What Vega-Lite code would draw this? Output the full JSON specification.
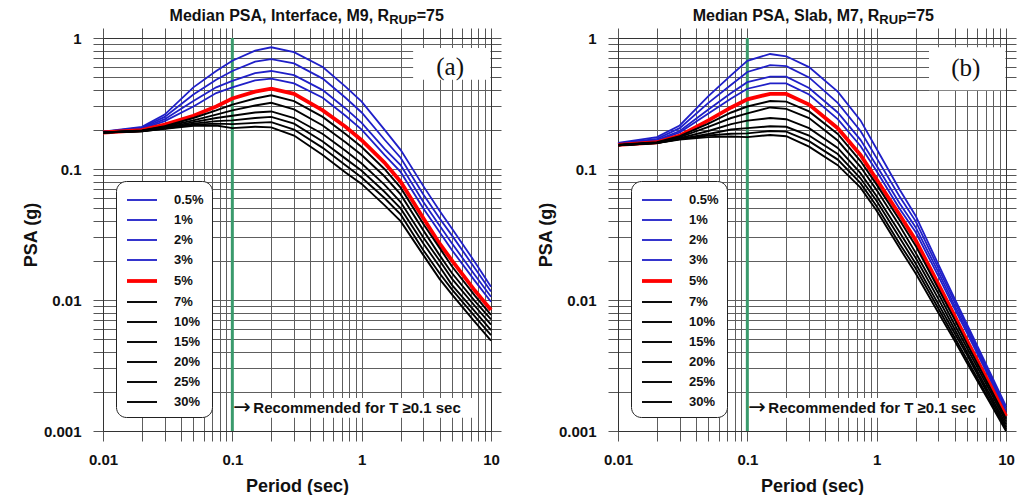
{
"$schema": "https://vega.github.io/schema/vega-lite/v6.json",
"background": "white",
"padding": {"left": 22, "top": 7, "right": 0, "bottom": 0},
"config": {"view": {"stroke": null}, "font": "Liberation Sans", "axis": {"labelFont": "Liberation Sans", "titleFont": "Liberation Sans", "domainColor": "#333", "tickColor": "#555", "domainWidth": 1, "tickWidth": 1}},
"datasets": {
"a": [
{"T":0.01,"d":"0.5%","v":0.193},{"T":0.01,"d":"1%","v":0.192},{"T":0.01,"d":"2%","v":0.192},{"T":0.01,"d":"3%","v":0.191},{"T":0.01,"d":"5%","v":0.19},{"T":0.01,"d":"7%","v":0.19},{"T":0.01,"d":"10%","v":0.19},{"T":0.01,"d":"15%","v":0.19},{"T":0.01,"d":"20%","v":0.19},{"T":0.01,"d":"25%","v":0.19},{"T":0.01,"d":"30%","v":0.19},
{"T":0.02,"d":"0.5%","v":0.21},{"T":0.02,"d":"1%","v":0.207},{"T":0.02,"d":"2%","v":0.204},{"T":0.02,"d":"3%","v":0.202},{"T":0.02,"d":"5%","v":0.198},{"T":0.02,"d":"7%","v":0.197},{"T":0.02,"d":"10%","v":0.196},{"T":0.02,"d":"15%","v":0.195},{"T":0.02,"d":"20%","v":0.195},{"T":0.02,"d":"25%","v":0.194},{"T":0.02,"d":"30%","v":0.194},
{"T":0.03,"d":"0.5%","v":0.26},{"T":0.03,"d":"1%","v":0.25},{"T":0.03,"d":"2%","v":0.24},{"T":0.03,"d":"3%","v":0.232},{"T":0.03,"d":"5%","v":0.218},{"T":0.03,"d":"7%","v":0.212},{"T":0.03,"d":"10%","v":0.21},{"T":0.03,"d":"15%","v":0.207},{"T":0.03,"d":"20%","v":0.205},{"T":0.03,"d":"25%","v":0.204},{"T":0.03,"d":"30%","v":0.203},
{"T":0.05,"d":"0.5%","v":0.42},{"T":0.05,"d":"1%","v":0.37},{"T":0.05,"d":"2%","v":0.33},{"T":0.05,"d":"3%","v":0.3},{"T":0.05,"d":"5%","v":0.255},{"T":0.05,"d":"7%","v":0.245},{"T":0.05,"d":"10%","v":0.235},{"T":0.05,"d":"15%","v":0.228},{"T":0.05,"d":"20%","v":0.222},{"T":0.05,"d":"25%","v":0.218},{"T":0.05,"d":"30%","v":0.214},
{"T":0.075,"d":"0.5%","v":0.56},{"T":0.075,"d":"1%","v":0.48},{"T":0.075,"d":"2%","v":0.42},{"T":0.075,"d":"3%","v":0.38},{"T":0.075,"d":"5%","v":0.3},{"T":0.075,"d":"7%","v":0.28},{"T":0.075,"d":"10%","v":0.26},{"T":0.075,"d":"15%","v":0.245},{"T":0.075,"d":"20%","v":0.232},{"T":0.075,"d":"25%","v":0.222},{"T":0.075,"d":"30%","v":0.215},
{"T":0.1,"d":"0.5%","v":0.67},{"T":0.1,"d":"1%","v":0.56},{"T":0.1,"d":"2%","v":0.47},{"T":0.1,"d":"3%","v":0.42},{"T":0.1,"d":"5%","v":0.345},{"T":0.1,"d":"7%","v":0.31},{"T":0.1,"d":"10%","v":0.28},{"T":0.1,"d":"15%","v":0.255},{"T":0.1,"d":"20%","v":0.235},{"T":0.1,"d":"25%","v":0.22},{"T":0.1,"d":"30%","v":0.205},
{"T":0.15,"d":"0.5%","v":0.8},{"T":0.15,"d":"1%","v":0.66},{"T":0.15,"d":"2%","v":0.54},{"T":0.15,"d":"3%","v":0.475},{"T":0.15,"d":"5%","v":0.39},{"T":0.15,"d":"7%","v":0.345},{"T":0.15,"d":"10%","v":0.305},{"T":0.15,"d":"15%","v":0.27},{"T":0.15,"d":"20%","v":0.245},{"T":0.15,"d":"25%","v":0.225},{"T":0.15,"d":"30%","v":0.21},
{"T":0.2,"d":"0.5%","v":0.85},{"T":0.2,"d":"1%","v":0.69},{"T":0.2,"d":"2%","v":0.56},{"T":0.2,"d":"3%","v":0.49},{"T":0.2,"d":"5%","v":0.41},{"T":0.2,"d":"7%","v":0.365},{"T":0.2,"d":"10%","v":0.32},{"T":0.2,"d":"15%","v":0.275},{"T":0.2,"d":"20%","v":0.25},{"T":0.2,"d":"25%","v":0.228},{"T":0.2,"d":"30%","v":0.208},
{"T":0.3,"d":"0.5%","v":0.78},{"T":0.3,"d":"1%","v":0.64},{"T":0.3,"d":"2%","v":0.52},{"T":0.3,"d":"3%","v":0.45},{"T":0.3,"d":"5%","v":0.375},{"T":0.3,"d":"7%","v":0.33},{"T":0.3,"d":"10%","v":0.285},{"T":0.3,"d":"15%","v":0.245},{"T":0.3,"d":"20%","v":0.222},{"T":0.3,"d":"25%","v":0.2},{"T":0.3,"d":"30%","v":0.18},
{"T":0.5,"d":"0.5%","v":0.6},{"T":0.5,"d":"1%","v":0.49},{"T":0.5,"d":"2%","v":0.4},{"T":0.5,"d":"3%","v":0.35},{"T":0.5,"d":"5%","v":0.28},{"T":0.5,"d":"7%","v":0.25},{"T":0.5,"d":"10%","v":0.215},{"T":0.5,"d":"15%","v":0.185},{"T":0.5,"d":"20%","v":0.162},{"T":0.5,"d":"25%","v":0.145},{"T":0.5,"d":"30%","v":0.128},
{"T":0.75,"d":"0.5%","v":0.425},{"T":0.75,"d":"1%","v":0.35},{"T":0.75,"d":"2%","v":0.29},{"T":0.75,"d":"3%","v":0.255},{"T":0.75,"d":"5%","v":0.21},{"T":0.75,"d":"7%","v":0.185},{"T":0.75,"d":"10%","v":0.16},{"T":0.75,"d":"15%","v":0.138},{"T":0.75,"d":"20%","v":0.12},{"T":0.75,"d":"25%","v":0.107},{"T":0.75,"d":"30%","v":0.094},
{"T":1,"d":"0.5%","v":0.327},{"T":1,"d":"1%","v":0.27},{"T":1,"d":"2%","v":0.225},{"T":1,"d":"3%","v":0.2},{"T":1,"d":"5%","v":0.166},{"T":1,"d":"7%","v":0.147},{"T":1,"d":"10%","v":0.128},{"T":1,"d":"15%","v":0.11},{"T":1,"d":"20%","v":0.097},{"T":1,"d":"25%","v":0.086},{"T":1,"d":"30%","v":0.077},
{"T":1.5,"d":"0.5%","v":0.2},{"T":1.5,"d":"1%","v":0.168},{"T":1.5,"d":"2%","v":0.143},{"T":1.5,"d":"3%","v":0.128},{"T":1.5,"d":"5%","v":0.112},{"T":1.5,"d":"7%","v":0.1},{"T":1.5,"d":"10%","v":0.088},{"T":1.5,"d":"15%","v":0.076},{"T":1.5,"d":"20%","v":0.067},{"T":1.5,"d":"25%","v":0.06},{"T":1.5,"d":"30%","v":0.053},
{"T":2,"d":"0.5%","v":0.14},{"T":2,"d":"1%","v":0.122},{"T":2,"d":"2%","v":0.107},{"T":2,"d":"3%","v":0.095},{"T":2,"d":"5%","v":0.08},{"T":2,"d":"7%","v":0.072},{"T":2,"d":"10%","v":0.064},{"T":2,"d":"15%","v":0.056},{"T":2,"d":"20%","v":0.05},{"T":2,"d":"25%","v":0.045},{"T":2,"d":"30%","v":0.04},
{"T":3,"d":"0.5%","v":0.074},{"T":3,"d":"1%","v":0.064},{"T":3,"d":"2%","v":0.056},{"T":3,"d":"3%","v":0.05},{"T":3,"d":"5%","v":0.042},{"T":3,"d":"7%","v":0.038},{"T":3,"d":"10%","v":0.034},{"T":3,"d":"15%","v":0.03},{"T":3,"d":"20%","v":0.027},{"T":3,"d":"25%","v":0.024},{"T":3,"d":"30%","v":0.022},
{"T":4,"d":"0.5%","v":0.048},{"T":4,"d":"1%","v":0.042},{"T":4,"d":"2%","v":0.037},{"T":4,"d":"3%","v":0.033},{"T":4,"d":"5%","v":0.027},{"T":4,"d":"7%","v":0.025},{"T":4,"d":"10%","v":0.022},{"T":4,"d":"15%","v":0.02},{"T":4,"d":"20%","v":0.018},{"T":4,"d":"25%","v":0.016},{"T":4,"d":"30%","v":0.0145},
{"T":5,"d":"0.5%","v":0.035},{"T":5,"d":"1%","v":0.031},{"T":5,"d":"2%","v":0.027},{"T":5,"d":"3%","v":0.024},{"T":5,"d":"5%","v":0.02},{"T":5,"d":"7%","v":0.018},{"T":5,"d":"10%","v":0.016},{"T":5,"d":"15%","v":0.0145},{"T":5,"d":"20%","v":0.013},{"T":5,"d":"25%","v":0.012},{"T":5,"d":"30%","v":0.011},
{"T":7.5,"d":"0.5%","v":0.0195},{"T":7.5,"d":"1%","v":0.0175},{"T":7.5,"d":"2%","v":0.0155},{"T":7.5,"d":"3%","v":0.014},{"T":7.5,"d":"5%","v":0.0118},{"T":7.5,"d":"7%","v":0.0108},{"T":7.5,"d":"10%","v":0.0098},{"T":7.5,"d":"15%","v":0.009},{"T":7.5,"d":"20%","v":0.0082},{"T":7.5,"d":"25%","v":0.0075},{"T":7.5,"d":"30%","v":0.0068},
{"T":10,"d":"0.5%","v":0.0126},{"T":10,"d":"1%","v":0.0116},{"T":10,"d":"2%","v":0.0106},{"T":10,"d":"3%","v":0.0097},{"T":10,"d":"5%","v":0.0084},{"T":10,"d":"7%","v":0.0077},{"T":10,"d":"10%","v":0.0071},{"T":10,"d":"15%","v":0.0065},{"T":10,"d":"20%","v":0.0059},{"T":10,"d":"25%","v":0.0054},{"T":10,"d":"30%","v":0.0049}
],
"b": [
{"T":0.01,"d":"0.5%","v":0.158},{"T":0.01,"d":"1%","v":0.157},{"T":0.01,"d":"2%","v":0.156},{"T":0.01,"d":"3%","v":0.155},{"T":0.01,"d":"5%","v":0.153},{"T":0.01,"d":"7%","v":0.153},{"T":0.01,"d":"10%","v":0.152},{"T":0.01,"d":"15%","v":0.152},{"T":0.01,"d":"20%","v":0.152},{"T":0.01,"d":"25%","v":0.152},{"T":0.01,"d":"30%","v":0.152},
{"T":0.02,"d":"0.5%","v":0.175},{"T":0.02,"d":"1%","v":0.17},{"T":0.02,"d":"2%","v":0.166},{"T":0.02,"d":"3%","v":0.164},{"T":0.02,"d":"5%","v":0.16},{"T":0.02,"d":"7%","v":0.16},{"T":0.02,"d":"10%","v":0.159},{"T":0.02,"d":"15%","v":0.159},{"T":0.02,"d":"20%","v":0.158},{"T":0.02,"d":"25%","v":0.158},{"T":0.02,"d":"30%","v":0.158},
{"T":0.03,"d":"0.5%","v":0.215},{"T":0.03,"d":"1%","v":0.205},{"T":0.03,"d":"2%","v":0.195},{"T":0.03,"d":"3%","v":0.19},{"T":0.03,"d":"5%","v":0.18},{"T":0.03,"d":"7%","v":0.178},{"T":0.03,"d":"10%","v":0.175},{"T":0.03,"d":"15%","v":0.172},{"T":0.03,"d":"20%","v":0.17},{"T":0.03,"d":"25%","v":0.169},{"T":0.03,"d":"30%","v":0.168},
{"T":0.05,"d":"0.5%","v":0.36},{"T":0.05,"d":"1%","v":0.32},{"T":0.05,"d":"2%","v":0.285},{"T":0.05,"d":"3%","v":0.265},{"T":0.05,"d":"5%","v":0.235},{"T":0.05,"d":"7%","v":0.222},{"T":0.05,"d":"10%","v":0.21},{"T":0.05,"d":"15%","v":0.195},{"T":0.05,"d":"20%","v":0.185},{"T":0.05,"d":"25%","v":0.18},{"T":0.05,"d":"30%","v":0.175},
{"T":0.075,"d":"0.5%","v":0.52},{"T":0.075,"d":"1%","v":0.44},{"T":0.075,"d":"2%","v":0.38},{"T":0.075,"d":"3%","v":0.345},{"T":0.075,"d":"5%","v":0.295},{"T":0.075,"d":"7%","v":0.27},{"T":0.075,"d":"10%","v":0.245},{"T":0.075,"d":"15%","v":0.22},{"T":0.075,"d":"20%","v":0.2},{"T":0.075,"d":"25%","v":0.186},{"T":0.075,"d":"30%","v":0.177},
{"T":0.1,"d":"0.5%","v":0.67},{"T":0.1,"d":"1%","v":0.55},{"T":0.1,"d":"2%","v":0.46},{"T":0.1,"d":"3%","v":0.41},{"T":0.1,"d":"5%","v":0.34},{"T":0.1,"d":"7%","v":0.3},{"T":0.1,"d":"10%","v":0.266},{"T":0.1,"d":"15%","v":0.234},{"T":0.1,"d":"20%","v":0.205},{"T":0.1,"d":"25%","v":0.187},{"T":0.1,"d":"30%","v":0.175},
{"T":0.15,"d":"0.5%","v":0.755},{"T":0.15,"d":"1%","v":0.62},{"T":0.15,"d":"2%","v":0.507},{"T":0.15,"d":"3%","v":0.45},{"T":0.15,"d":"5%","v":0.375},{"T":0.15,"d":"7%","v":0.33},{"T":0.15,"d":"10%","v":0.295},{"T":0.15,"d":"15%","v":0.245},{"T":0.15,"d":"20%","v":0.212},{"T":0.15,"d":"25%","v":0.195},{"T":0.15,"d":"30%","v":0.182},
{"T":0.2,"d":"0.5%","v":0.725},{"T":0.2,"d":"1%","v":0.61},{"T":0.2,"d":"2%","v":0.507},{"T":0.2,"d":"3%","v":0.45},{"T":0.2,"d":"5%","v":0.374},{"T":0.2,"d":"7%","v":0.327},{"T":0.2,"d":"10%","v":0.288},{"T":0.2,"d":"15%","v":0.24},{"T":0.2,"d":"20%","v":0.21},{"T":0.2,"d":"25%","v":0.193},{"T":0.2,"d":"30%","v":0.178},
{"T":0.3,"d":"0.5%","v":0.6},{"T":0.3,"d":"1%","v":0.5},{"T":0.3,"d":"2%","v":0.415},{"T":0.3,"d":"3%","v":0.37},{"T":0.3,"d":"5%","v":0.31},{"T":0.3,"d":"7%","v":0.275},{"T":0.3,"d":"10%","v":0.245},{"T":0.3,"d":"15%","v":0.205},{"T":0.3,"d":"20%","v":0.18},{"T":0.3,"d":"25%","v":0.163},{"T":0.3,"d":"30%","v":0.148},
{"T":0.5,"d":"0.5%","v":0.39},{"T":0.5,"d":"1%","v":0.32},{"T":0.5,"d":"2%","v":0.27},{"T":0.5,"d":"3%","v":0.24},{"T":0.5,"d":"5%","v":0.205},{"T":0.5,"d":"7%","v":0.185},{"T":0.5,"d":"10%","v":0.165},{"T":0.5,"d":"15%","v":0.145},{"T":0.5,"d":"20%","v":0.13},{"T":0.5,"d":"25%","v":0.118},{"T":0.5,"d":"30%","v":0.107},
{"T":0.75,"d":"0.5%","v":0.235},{"T":0.75,"d":"1%","v":0.195},{"T":0.75,"d":"2%","v":0.167},{"T":0.75,"d":"3%","v":0.15},{"T":0.75,"d":"5%","v":0.128},{"T":0.75,"d":"7%","v":0.115},{"T":0.75,"d":"10%","v":0.104},{"T":0.75,"d":"15%","v":0.093},{"T":0.75,"d":"20%","v":0.085},{"T":0.75,"d":"25%","v":0.078},{"T":0.75,"d":"30%","v":0.072},
{"T":1,"d":"0.5%","v":0.142},{"T":1,"d":"1%","v":0.121},{"T":1,"d":"2%","v":0.106},{"T":1,"d":"3%","v":0.096},{"T":1,"d":"5%","v":0.083},{"T":1,"d":"7%","v":0.076},{"T":1,"d":"10%","v":0.069},{"T":1,"d":"15%","v":0.062},{"T":1,"d":"20%","v":0.057},{"T":1,"d":"25%","v":0.052},{"T":1,"d":"30%","v":0.048},
{"T":1.5,"d":"0.5%","v":0.07},{"T":1.5,"d":"1%","v":0.062},{"T":1.5,"d":"2%","v":0.055},{"T":1.5,"d":"3%","v":0.05},{"T":1.5,"d":"5%","v":0.045},{"T":1.5,"d":"7%","v":0.041},{"T":1.5,"d":"10%","v":0.037},{"T":1.5,"d":"15%","v":0.033},{"T":1.5,"d":"20%","v":0.03},{"T":1.5,"d":"25%","v":0.027},{"T":1.5,"d":"30%","v":0.025},
{"T":2,"d":"0.5%","v":0.044},{"T":2,"d":"1%","v":0.04},{"T":2,"d":"2%","v":0.036},{"T":2,"d":"3%","v":0.033},{"T":2,"d":"5%","v":0.0287},{"T":2,"d":"7%","v":0.026},{"T":2,"d":"10%","v":0.023},{"T":2,"d":"15%","v":0.021},{"T":2,"d":"20%","v":0.019},{"T":2,"d":"25%","v":0.0175},{"T":2,"d":"30%","v":0.016},
{"T":3,"d":"0.5%","v":0.0187},{"T":3,"d":"1%","v":0.0175},{"T":3,"d":"2%","v":0.0163},{"T":3,"d":"3%","v":0.0152},{"T":3,"d":"5%","v":0.0132},{"T":3,"d":"7%","v":0.0122},{"T":3,"d":"10%","v":0.0112},{"T":3,"d":"15%","v":0.0102},{"T":3,"d":"20%","v":0.0093},{"T":3,"d":"25%","v":0.0086},{"T":3,"d":"30%","v":0.008},
{"T":4,"d":"0.5%","v":0.0103},{"T":4,"d":"1%","v":0.0097},{"T":4,"d":"2%","v":0.0091},{"T":4,"d":"3%","v":0.0086},{"T":4,"d":"5%","v":0.0076},{"T":4,"d":"7%","v":0.0071},{"T":4,"d":"10%","v":0.0065},{"T":4,"d":"15%","v":0.006},{"T":4,"d":"20%","v":0.0056},{"T":4,"d":"25%","v":0.0052},{"T":4,"d":"30%","v":0.0049},
{"T":5,"d":"0.5%","v":0.0065},{"T":5,"d":"1%","v":0.0062},{"T":5,"d":"2%","v":0.0059},{"T":5,"d":"3%","v":0.0056},{"T":5,"d":"5%","v":0.0049},{"T":5,"d":"7%","v":0.0046},{"T":5,"d":"10%","v":0.0043},{"T":5,"d":"15%","v":0.004},{"T":5,"d":"20%","v":0.0038},{"T":5,"d":"25%","v":0.0035},{"T":5,"d":"30%","v":0.0033},
{"T":7.5,"d":"0.5%","v":0.00282},{"T":7.5,"d":"1%","v":0.0027},{"T":7.5,"d":"2%","v":0.0026},{"T":7.5,"d":"3%","v":0.0025},{"T":7.5,"d":"5%","v":0.00227},{"T":7.5,"d":"7%","v":0.00215},{"T":7.5,"d":"10%","v":0.00203},{"T":7.5,"d":"15%","v":0.0019},{"T":7.5,"d":"20%","v":0.0018},{"T":7.5,"d":"25%","v":0.0017},{"T":7.5,"d":"30%","v":0.00165},
{"T":10,"d":"0.5%","v":0.00155},{"T":10,"d":"1%","v":0.00148},{"T":10,"d":"2%","v":0.00142},{"T":10,"d":"3%","v":0.00137},{"T":10,"d":"5%","v":0.0013},{"T":10,"d":"7%","v":0.00124},{"T":10,"d":"10%","v":0.00118},{"T":10,"d":"15%","v":0.00112},{"T":10,"d":"20%","v":0.00107},{"T":10,"d":"25%","v":0.00103},{"T":10,"d":"30%","v":0.001}
]
},
"spacing": 35,
"resolve": {"scale": {"color": "independent", "strokeWidth": "independent"}},
"hconcat": [
{
"width": 388, "height": 393,
"resolve": {"axis": {"x": "independent", "y": "independent"}},
"layer": [
{"data": {"values": [{}]}, "mark": {"type": "rect", "fill": "white"},
 "encoding": {"x": {"datum": 2.5, "type": "quantitative", "scale": {"type": "log", "domain": [0.01, 10], "nice": false}, "axis": null}, "x2": {"datum": 9.9},
  "y": {"datum": 0.48, "type": "quantitative", "scale": {"type": "log", "domain": [0.001, 1], "nice": false},
   "axis": {"orient": "right", "values": [0.001,0.002,0.003,0.004,0.005,0.006,0.007,0.008,0.009,0.01,0.02,0.03,0.04,0.05,0.06,0.07,0.08,0.09,0.1,0.2,0.3,0.4,0.5,0.6,0.7,0.8,0.9,1], "labels": false, "grid": false, "tickSize": 10, "title": null}},
  "y2": {"datum": 0.84}}},
{"data": {"values": [{}]}, "mark": {"type": "rect", "fill": "white"},
 "encoding": {"x": {"datum": 0.1, "type": "quantitative", "scale": {"type": "log", "domain": [0.01, 10], "nice": false}, "axis": null}, "x2": {"datum": 7.9},
  "y": {"datum": 0.00126, "type": "quantitative", "scale": {"type": "log", "domain": [0.001, 1], "nice": false}, "axis": null}, "y2": {"datum": 0.00179}}},
{"data": {"values": [{}]}, "mark": {"type": "rule", "color": "#3a9a6c", "strokeWidth": 3},
 "encoding": {"x": {"datum": 0.1, "type": "quantitative", "scale": {"type": "log", "domain": [0.01, 10], "nice": false},
   "axis": {"orient": "top", "values": [0.01,0.02,0.03,0.04,0.05,0.06,0.07,0.08,0.09,0.1,0.2,0.3,0.4,0.5,0.6,0.7,0.8,0.9,1,2,3,4,5,6,7,8,9,10], "labels": false, "grid": false, "tickSize": 10, "title": null}}}},
{"data": {"name": "a"}, "mark": {"type": "line"},
 "encoding": {
  "x": {"field": "T", "type": "quantitative", "scale": {"type": "log", "domain": [0.01, 10], "nice": false},
   "axis": {"orient": "bottom", "values": [0.01,0.02,0.03,0.04,0.05,0.06,0.07,0.08,0.09,0.1,0.2,0.3,0.4,0.5,0.6,0.7,0.8,0.9,1,2,3,4,5,6,7,8,9,10], "format": "~g", "labelExpr": "datum.value == 0.01 || datum.value == 0.1 || datum.value == 1 || datum.value == 10 ? datum.label : ''", "labelOverlap": false, "labelFlush": false, "grid": true, "gridColor": "#5e5e5e", "gridOpacity": 1, "gridWidth": 1, "tickSize": 10, "labelPadding": 11, "labelFontSize": 15, "labelFontWeight": "bold", "labelColor": "#111", "title": "Period (sec)", "titleFontSize": 18, "titleFontWeight": "bold", "titleColor": "#111", "titlePadding": 10}},
  "y": {"field": "v", "type": "quantitative", "scale": {"type": "log", "domain": [0.001, 1], "nice": false},
   "axis": {"orient": "left", "values": [0.001,0.002,0.003,0.004,0.005,0.006,0.007,0.008,0.009,0.01,0.02,0.03,0.04,0.05,0.06,0.07,0.08,0.09,0.1,0.2,0.3,0.4,0.5,0.6,0.7,0.8,0.9,1], "format": "~g", "labelExpr": "datum.value == 0.001 || datum.value == 0.01 || datum.value == 0.1 || datum.value == 1 ? datum.label : ''", "labelOverlap": false, "labelFlush": false, "grid": true, "gridColor": "#5e5e5e", "gridOpacity": 1, "gridWidth": 1, "tickSize": 10, "labelPadding": 12, "labelFontSize": 15, "labelFontWeight": "bold", "labelColor": "#111", "title": "PSA (g)", "titleFontSize": 18, "titleFontWeight": "bold", "titleColor": "#111", "titlePadding": 3}},
  "color": {"field": "d", "type": "ordinal", "scale": {"type": "ordinal", "domain": ["0.5%","1%","2%","3%","5%","7%","10%","15%","20%","25%","30%"], "range": ["#1f1fc8","#1f1fc8","#1f1fc8","#1f1fc8","#ff0000","#000000","#000000","#000000","#000000","#000000","#000000"]},
   "legend": {"orient": "none", "legendX": 13, "legendY": 143, "title": null, "symbolType": "M-1.5,0L1.5,0", "symbolSize": 400, "symbolOffset": 6, "labelOffset": 20, "labelFontSize": 13, "labelFontWeight": "bold", "labelFont": "Liberation Sans", "labelColor": "#111", "padding": 8, "rowPadding": 2, "strokeColor": "#222", "fillColor": "white", "cornerRadius": 10}},
  "strokeWidth": {"field": "d", "type": "ordinal", "scale": {"type": "ordinal", "domain": ["0.5%","1%","2%","3%","5%","7%","10%","15%","20%","25%","30%"], "range": [1.8,1.8,1.8,1.8,3.8,1.9,1.9,1.9,1.9,1.9,1.9]},
   "legend": {"orient": "none", "legendX": 13, "legendY": 143, "title": null, "symbolType": "M-1.5,0L1.5,0", "symbolSize": 400, "symbolOffset": 6, "labelOffset": 20, "labelFontSize": 13, "labelFontWeight": "bold", "labelFont": "Liberation Sans", "labelColor": "#111", "padding": 8, "rowPadding": 2, "strokeColor": "#222", "fillColor": "white", "cornerRadius": 10}}
 }},
{"data": {"values": [{}]}, "mark": {"type": "text", "text": "Median PSA, Interface, M9, R", "align": "right", "baseline": "alphabetic", "fontSize": 16, "fontWeight": "bold", "font": "Liberation Sans", "color": "#111"},
 "encoding": {"x": {"datum": 1.632, "type": "quantitative", "scale": {"type": "log", "domain": [0.01, 10], "nice": false}, "axis": null}, "y": {"datum": 1.355, "type": "quantitative", "scale": {"type": "log", "domain": [0.001, 1], "nice": false}, "axis": null}}},
{"data": {"values": [{}]}, "mark": {"type": "text", "text": "RUP", "align": "left", "baseline": "alphabetic", "fontSize": 13, "fontWeight": "bold", "font": "Liberation Sans", "color": "#111"},
 "encoding": {"x": {"datum": 1.632, "type": "quantitative", "scale": {"type": "log", "domain": [0.01, 10], "nice": false}, "axis": null}, "y": {"datum": 1.29, "type": "quantitative", "scale": {"type": "log", "domain": [0.001, 1], "nice": false}, "axis": null}}},
{"data": {"values": [{}]}, "mark": {"type": "text", "text": "=75", "align": "left", "baseline": "alphabetic", "dx": 27.5, "fontSize": 16, "fontWeight": "bold", "font": "Liberation Sans", "color": "#111"},
 "encoding": {"x": {"datum": 1.632, "type": "quantitative", "scale": {"type": "log", "domain": [0.01, 10], "nice": false}, "axis": null}, "y": {"datum": 1.355, "type": "quantitative", "scale": {"type": "log", "domain": [0.001, 1], "nice": false}, "axis": null}}},
{"data": {"values": [{}]}, "mark": {"type": "text", "text": "(a)", "align": "center", "baseline": "middle", "fontSize": 25, "font": "Liberation Serif", "color": "#111"},
 "encoding": {"x": {"datum": 4.83, "type": "quantitative", "scale": {"type": "log", "domain": [0.01, 10], "nice": false}, "axis": null}, "y": {"datum": 0.6, "type": "quantitative", "scale": {"type": "log", "domain": [0.001, 1], "nice": false}, "axis": null}}},
{"data": {"values": [{}]}, "mark": {"type": "text", "text": "→", "align": "left", "baseline": "middle", "dx": 1, "fontSize": 21, "font": "DejaVu Sans", "color": "#111"},
 "encoding": {"x": {"datum": 0.1, "type": "quantitative", "scale": {"type": "log", "domain": [0.01, 10], "nice": false}, "axis": null}, "y": {"datum": 0.0015, "type": "quantitative", "scale": {"type": "log", "domain": [0.001, 1], "nice": false}, "axis": null}}},
{"data": {"values": [{}]}, "mark": {"type": "text", "text": "Recommended for T ≥0.1 sec", "align": "left", "baseline": "middle", "dx": 21, "fontSize": 15, "fontWeight": "bold", "font": "Liberation Sans", "color": "#111"},
 "encoding": {"x": {"datum": 0.1, "type": "quantitative", "scale": {"type": "log", "domain": [0.01, 10], "nice": false}, "axis": null}, "y": {"datum": 0.0015, "type": "quantitative", "scale": {"type": "log", "domain": [0.001, 1], "nice": false}, "axis": null}}}
]
},
{
"width": 388, "height": 393,
"resolve": {"axis": {"x": "independent", "y": "independent"}},
"layer": [
{"data": {"values": [{}]}, "mark": {"type": "rect", "fill": "white"},
 "encoding": {"x": {"datum": 2.54, "type": "quantitative", "scale": {"type": "log", "domain": [0.01, 10], "nice": false}, "axis": null}, "x2": {"datum": 9.9},
  "y": {"datum": 0.4, "type": "quantitative", "scale": {"type": "log", "domain": [0.001, 1], "nice": false},
   "axis": {"orient": "right", "values": [0.001,0.002,0.003,0.004,0.005,0.006,0.007,0.008,0.009,0.01,0.02,0.03,0.04,0.05,0.06,0.07,0.08,0.09,0.1,0.2,0.3,0.4,0.5,0.6,0.7,0.8,0.9,1], "labels": false, "grid": false, "tickSize": 10, "title": null}},
  "y2": {"datum": 0.85}}},
{"data": {"values": [{}]}, "mark": {"type": "rect", "fill": "white"},
 "encoding": {"x": {"datum": 0.1, "type": "quantitative", "scale": {"type": "log", "domain": [0.01, 10], "nice": false}, "axis": null}, "x2": {"datum": 7.6},
  "y": {"datum": 0.00126, "type": "quantitative", "scale": {"type": "log", "domain": [0.001, 1], "nice": false}, "axis": null}, "y2": {"datum": 0.00179}}},
{"data": {"values": [{}]}, "mark": {"type": "rule", "color": "#3a9a6c", "strokeWidth": 3},
 "encoding": {"x": {"datum": 0.1, "type": "quantitative", "scale": {"type": "log", "domain": [0.01, 10], "nice": false},
   "axis": {"orient": "top", "values": [0.01,0.02,0.03,0.04,0.05,0.06,0.07,0.08,0.09,0.1,0.2,0.3,0.4,0.5,0.6,0.7,0.8,0.9,1,2,3,4,5,6,7,8,9,10], "labels": false, "grid": false, "tickSize": 10, "title": null}}}},
{"data": {"name": "b"}, "mark": {"type": "line"},
 "encoding": {
  "x": {"field": "T", "type": "quantitative", "scale": {"type": "log", "domain": [0.01, 10], "nice": false},
   "axis": {"orient": "bottom", "values": [0.01,0.02,0.03,0.04,0.05,0.06,0.07,0.08,0.09,0.1,0.2,0.3,0.4,0.5,0.6,0.7,0.8,0.9,1,2,3,4,5,6,7,8,9,10], "format": "~g", "labelExpr": "datum.value == 0.01 || datum.value == 0.1 || datum.value == 1 || datum.value == 10 ? datum.label : ''", "labelOverlap": false, "labelFlush": false, "grid": true, "gridColor": "#5e5e5e", "gridOpacity": 1, "gridWidth": 1, "tickSize": 10, "labelPadding": 11, "labelFontSize": 15, "labelFontWeight": "bold", "labelColor": "#111", "title": "Period (sec)", "titleFontSize": 18, "titleFontWeight": "bold", "titleColor": "#111", "titlePadding": 10}},
  "y": {"field": "v", "type": "quantitative", "scale": {"type": "log", "domain": [0.001, 1], "nice": false},
   "axis": {"orient": "left", "values": [0.001,0.002,0.003,0.004,0.005,0.006,0.007,0.008,0.009,0.01,0.02,0.03,0.04,0.05,0.06,0.07,0.08,0.09,0.1,0.2,0.3,0.4,0.5,0.6,0.7,0.8,0.9,1], "format": "~g", "labelExpr": "datum.value == 0.001 || datum.value == 0.01 || datum.value == 0.1 || datum.value == 1 ? datum.label : ''", "labelOverlap": false, "labelFlush": false, "grid": true, "gridColor": "#5e5e5e", "gridOpacity": 1, "gridWidth": 1, "tickSize": 10, "labelPadding": 12, "labelFontSize": 15, "labelFontWeight": "bold", "labelColor": "#111", "title": "PSA (g)", "titleFontSize": 18, "titleFontWeight": "bold", "titleColor": "#111", "titlePadding": 3}},
  "color": {"field": "d", "type": "ordinal", "scale": {"type": "ordinal", "domain": ["0.5%","1%","2%","3%","5%","7%","10%","15%","20%","25%","30%"], "range": ["#1f1fc8","#1f1fc8","#1f1fc8","#1f1fc8","#ff0000","#000000","#000000","#000000","#000000","#000000","#000000"]},
   "legend": {"orient": "none", "legendX": 13, "legendY": 143, "title": null, "symbolType": "M-1.5,0L1.5,0", "symbolSize": 400, "symbolOffset": 6, "labelOffset": 20, "labelFontSize": 13, "labelFontWeight": "bold", "labelFont": "Liberation Sans", "labelColor": "#111", "padding": 8, "rowPadding": 2, "strokeColor": "#222", "fillColor": "white", "cornerRadius": 10}},
  "strokeWidth": {"field": "d", "type": "ordinal", "scale": {"type": "ordinal", "domain": ["0.5%","1%","2%","3%","5%","7%","10%","15%","20%","25%","30%"], "range": [1.8,1.8,1.8,1.8,3.8,1.9,1.9,1.9,1.9,1.9,1.9]},
   "legend": {"orient": "none", "legendX": 13, "legendY": 143, "title": null, "symbolType": "M-1.5,0L1.5,0", "symbolSize": 400, "symbolOffset": 6, "labelOffset": 20, "labelFontSize": 13, "labelFontWeight": "bold", "labelFont": "Liberation Sans", "labelColor": "#111", "padding": 8, "rowPadding": 2, "strokeColor": "#222", "fillColor": "white", "cornerRadius": 10}}
 }},
{"data": {"values": [{}]}, "mark": {"type": "text", "text": "Median PSA, Slab, M7, R", "align": "right", "baseline": "alphabetic", "fontSize": 16, "fontWeight": "bold", "font": "Liberation Sans", "color": "#111"},
 "encoding": {"x": {"datum": 1.049, "type": "quantitative", "scale": {"type": "log", "domain": [0.01, 10], "nice": false}, "axis": null}, "y": {"datum": 1.355, "type": "quantitative", "scale": {"type": "log", "domain": [0.001, 1], "nice": false}, "axis": null}}},
{"data": {"values": [{}]}, "mark": {"type": "text", "text": "RUP", "align": "left", "baseline": "alphabetic", "fontSize": 13, "fontWeight": "bold", "font": "Liberation Sans", "color": "#111"},
 "encoding": {"x": {"datum": 1.049, "type": "quantitative", "scale": {"type": "log", "domain": [0.01, 10], "nice": false}, "axis": null}, "y": {"datum": 1.29, "type": "quantitative", "scale": {"type": "log", "domain": [0.001, 1], "nice": false}, "axis": null}}},
{"data": {"values": [{}]}, "mark": {"type": "text", "text": "=75", "align": "left", "baseline": "alphabetic", "dx": 27.5, "fontSize": 16, "fontWeight": "bold", "font": "Liberation Sans", "color": "#111"},
 "encoding": {"x": {"datum": 1.049, "type": "quantitative", "scale": {"type": "log", "domain": [0.01, 10], "nice": false}, "axis": null}, "y": {"datum": 1.355, "type": "quantitative", "scale": {"type": "log", "domain": [0.001, 1], "nice": false}, "axis": null}}},
{"data": {"values": [{}]}, "mark": {"type": "text", "text": "(b)", "align": "center", "baseline": "middle", "fontSize": 25, "font": "Liberation Serif", "color": "#111"},
 "encoding": {"x": {"datum": 4.89, "type": "quantitative", "scale": {"type": "log", "domain": [0.01, 10], "nice": false}, "axis": null}, "y": {"datum": 0.59, "type": "quantitative", "scale": {"type": "log", "domain": [0.001, 1], "nice": false}, "axis": null}}},
{"data": {"values": [{}]}, "mark": {"type": "text", "text": "→", "align": "left", "baseline": "middle", "dx": 1, "fontSize": 21, "font": "DejaVu Sans", "color": "#111"},
 "encoding": {"x": {"datum": 0.1, "type": "quantitative", "scale": {"type": "log", "domain": [0.01, 10], "nice": false}, "axis": null}, "y": {"datum": 0.0015, "type": "quantitative", "scale": {"type": "log", "domain": [0.001, 1], "nice": false}, "axis": null}}},
{"data": {"values": [{}]}, "mark": {"type": "text", "text": "Recommended for T ≥0.1 sec", "align": "left", "baseline": "middle", "dx": 21, "fontSize": 15, "fontWeight": "bold", "font": "Liberation Sans", "color": "#111"},
 "encoding": {"x": {"datum": 0.1, "type": "quantitative", "scale": {"type": "log", "domain": [0.01, 10], "nice": false}, "axis": null}, "y": {"datum": 0.0015, "type": "quantitative", "scale": {"type": "log", "domain": [0.001, 1], "nice": false}, "axis": null}}}
]
}
]
}
